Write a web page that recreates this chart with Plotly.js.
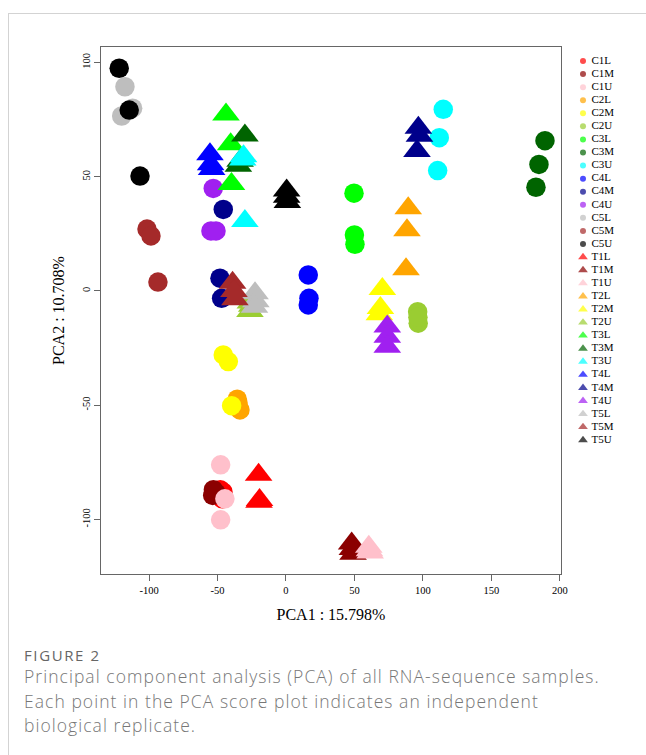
<!DOCTYPE html>
<html>
<head>
<meta charset="utf-8">
<script src="https://cdn.plot.ly/plotly-3.0.1.min.js"></script>
<style>
  html, body { margin: 0; padding: 0; background: #fff; width: 646px; height: 755px; overflow: hidden; }
  #frame { position: absolute; left: 8px; top: 13px; width: 700px; height: 800px; border: 1px solid #d3d3d3; box-sizing: border-box; }
  #chart { position: absolute; left: 0; top: 0; width: 646px; height: 640px; }
  #figlabel { position: absolute; left: 24px; top: 645px; font-family: "Open Sans", sans-serif; font-size: 15px; color: #666; letter-spacing: 1.6px; white-space: nowrap; }
  #caption { position: absolute; left: 24px; top: 664px; width: 640px; font-family: "Open Sans", sans-serif; font-size: 17.5px; line-height: 24.5px; color: #777; font-weight: 300; letter-spacing: 1.05px; white-space: nowrap; }
</style>
</head>
<body>
<div id="frame"></div>
<div id="chart"></div>
<div id="figlabel">FIGURE 2</div>
<div id="caption">Principal component analysis (PCA) of all RNA-sequence samples.<br>Each point in the PCA score plot indicates an independent<br>biological replicate.</div>
<script>
// ---- data ----
const groups = ["C1L","C1M","C1U","C2L","C2M","C2U","C3L","C3M","C3U","C4L","C4M","C4U","C5L","C5M","C5U",
                "T1L","T1M","T1U","T2L","T2M","T2U","T3L","T3M","T3U","T4L","T4M","T4U","T5L","T5M","T5U"];

const pc1 = [
  [-48, -46, -46.5],      // C1L
  [-53, -53.5, -51],      // C1M
  [-47.7, -44.6, -47.7],  // C1U
  [-35.6, -33.6, -35],    // C2L
  [-45.8, -42.1, -39.7],  // C2M
  [96.2, 96.6, 96.4],     // C2U
  [49.7, 50, 50.4],       // C3L
  [189.2, 184.8, 182.6],  // C3M
  [114.9, 112, 110.8],    // C3U
  [16.3, 16.8, 16.3],     // C4L
  [-48.2, -47, -45.8],    // C4M
  [-53.1, -54.8, -51.1],  // C4U
  [-117.6, -120, -112],   // C5L
  [-101.5, -98.6, -93.5], // C5M
  [-121.8, -114.5, -106.6], // C5U
  [-20, -19.7, -19.3],    // T1L
  [48, 48.5, 49],         // T1M
  [60.5, 61, 61.5],       // T1U
  [89.3, 88.4, 87.7],     // T2L
  [70.4, 68.2, 69],       // T2M
  [-26.3, -25, -26],      // T2U
  [-43.8, -40.4, -39.8],  // T3L
  [-30, -34.8, -33.5],    // T3M
  [-31.6, -30, -31],      // T3U
  [-55.5, -54.3, -55],    // T4L
  [96.7, 97.5, 95.7],     // T4M
  [74, 74, 74],           // T4U
  [-22.6, -22, -23],      // T5L
  [-39, -37.3, -38],      // T5M
  [0.5, 0.5, 1]           // T5U
];

const pc2 = [
  [-87, -88, -91],        // C1L
  [-87, -89.5, -88.5],    // C1M
  [-76.1, -91, -100.2],   // C1U
  [-47.4, -52.1, -49],    // C2L
  [-28, -30.9, -50.2],    // C2M
  [-9.1, -14.1, -11.5],   // C2U
  [42.8, 24.5, 20.4],     // C3L
  [65.8, 55.4, 45.4],     // C3M
  [79.5, 67.1, 52.7],     // C3U
  [7, -3.2, -6.1],        // C4L
  [5.6, -3.2, 35.7],      // C4M
  [44.9, 26.3, 26.3],     // C4U
  [89.4, 76.6, 80],       // C5L
  [27.1, 24.1, 3.9],      // C5M
  [97.5, 79.2, 50.3],     // C5U
  [-80.5, -92.3, -91.5],  // T1L
  [-110.5, -113, -115],   // T1M
  [-112, -113.5, -114.5], // T1U
  [36.2, 26.6, 9.5],      // T2L
  [0.9, -10.2, -7.5],     // T2M
  [-8.8, -6.5, -5],       // T2U
  [77.3, 64.2, 46.8],     // T3L
  [68.1, 54.8, 57],       // T3M
  [57.6, 30.6, 59],       // T3U
  [59.8, 53.4, 55.5],     // T4L
  [71.5, 68, 61.3],       // T4M
  [-15.6, -20, -24.4],    // T4U
  [-1, -4.5, -6.9],       // T5L
  [3.6, -3.6, 0],         // T5M
  [44, 41.3, 39]          // T5U
];

const palette = ["#FF0000","#8B0000","#FFC0CB","#FFA500","#FFFF00","#9ACD32","#00FF00","#006400","#00FFFF",
                 "#0000FF","#00008B","#A020F0","#BEBEBE","#A52A2A","#000000"];

const xTicks = [-100, -50, 0, 50, 100, 150, 200];
const yTicks = [-100, -50, 0, 50, 100];

// ---- build traces ----
const serif = "Liberation Serif, Times New Roman, serif";
const traces = [];
groups.forEach((g, i) => {
  const isT = g[0] === "T";
  traces.push({
    type: "scatter", mode: "markers", name: g,
    x: pc1[i], y: pc2[i], xaxis: "x", yaxis: "y",
    marker: { color: palette[i % 15], size: isT ? 24 : 19.5, symbol: isT ? "triangle-up" : "circle", line: { width: 0 } },
    showlegend: false, hoverinfo: "name"
  });
});

// manual legend drawn on a hidden helper axis
const legIdx = groups.map((g, i) => -i);
traces.push({
  type: "scatter", mode: "markers", x: groups.map(() => 0), y: legIdx, xaxis: "x2", yaxis: "y2",
  marker: { color: groups.map((g, i) => palette[i % 15]), size: groups.map(g => g[0] === "T" ? 8.5 : 6),
            symbol: groups.map(g => g[0] === "T" ? "triangle-up" : "circle"), line: { width: 0 } },
  showlegend: false, hoverinfo: "skip"
});
traces.push({
  type: "scatter", mode: "text", x: groups.map(() => 8.5), y: legIdx, xaxis: "x2", yaxis: "y2",
  text: groups, textposition: "middle right", marker: { size: 1 },
  textfont: { family: serif, size: 11, color: "#000" },
  showlegend: false, hoverinfo: "skip"
});

const axisCommon = {
  showgrid: false, zeroline: false, showline: true, mirror: true,
  linecolor: "#666", linewidth: 1, ticks: "outside", ticklen: 6, tickcolor: "#666", tickwidth: 1,
  tickfont: { family: serif, size: 10.5, color: "#000" }
};

const layout = {
  width: 646, height: 640,
  margin: { l: 101, r: 0, t: 47, b: 66 },
  paper_bgcolor: "rgba(0,0,0,0)", plot_bgcolor: "#fff",
  showlegend: false,
  xaxis: Object.assign({}, axisCommon, {
    domain: [0, 460 / 545], range: [-135.1, 200.9], tickvals: xTicks, ticktext: xTicks.map(String),
    title: { text: "PCA1 : 15.798%", font: { family: serif, size: 16, color: "#000" }, standoff: 14 }
  }),
  yaxis: Object.assign({}, axisCommon, {
    range: [-123.9, 106.8], tickvals: yTicks, ticktext: yTicks.map(String), tickangle: -90,
    title: { text: "PCA2 : 10.708%", font: { family: serif, size: 16, color: "#000" }, standoff: 12 }
  }),
  xaxis2: { domain: [0.85, 1], range: [-18.75, 63], visible: false, fixedrange: true, anchor: "y2" },
  yaxis2: { domain: [0, 1], range: [-39.25, 1.071], visible: false, fixedrange: true, anchor: "x2" }
};

Plotly.newPlot("chart", traces, layout, { displayModeBar: false, staticPlot: true });
</script>
</body>
</html>
